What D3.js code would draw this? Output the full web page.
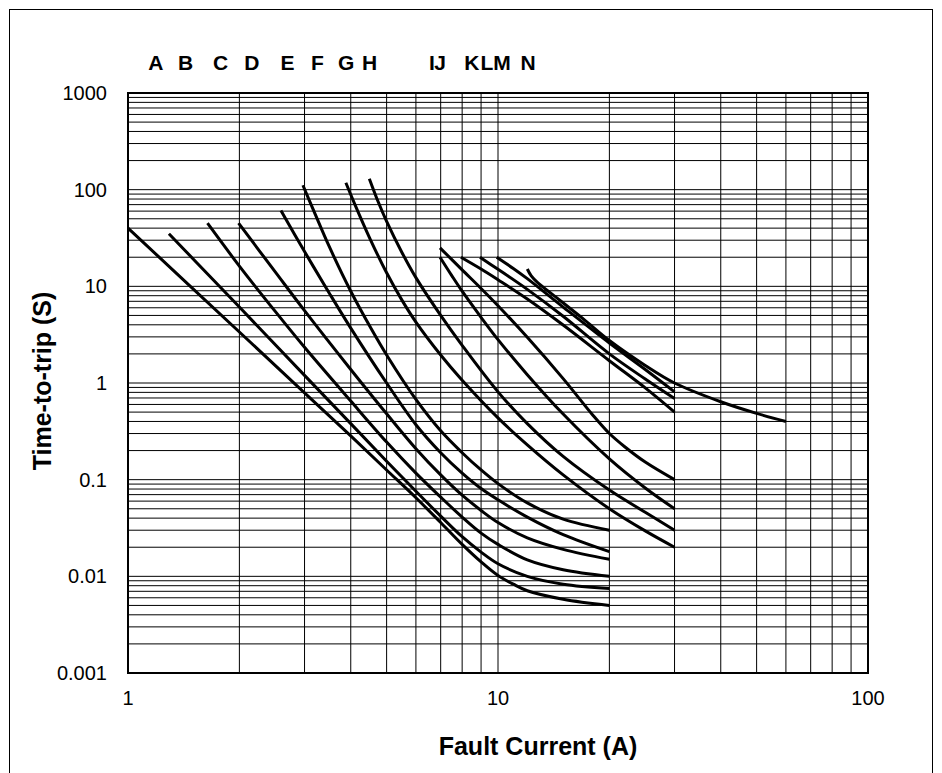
<!DOCTYPE html>
<html>
<head>
<meta charset="utf-8">
<script src="https://d3js.org/d3.v7.min.js"></script>
<style>
  body { margin: 0; background: #fff; }
  text { font-family: Arial, "Liberation Sans", sans-serif; fill: #000; }
</style>
</head>
<body>
<svg id="chart" width="942" height="773"></svg>
<script>
// tick labels
var xTicks = [1, 10, 100];
var yTicks = [1000, 100, 10, 1, 0.1, 0.01, 0.001];

// curve letters and the current (A) each letter sits over
var letters   = ["A", "B", "C", "D", "E", "F", "G", "H", "I", "J", "K", "L", "M", "N"];
var letterAmp = [1.19, 1.43, 1.78, 2.16, 2.70, 3.25, 3.89, 4.5, 6.63, 6.97, 8.5, 9.34, 10.25, 12.05];

// [current (A), time (s)]
var curveA = [[1, 40], [2, 3.37], [3, 0.79], [4, 0.284], [5, 0.126], [6, 0.065], [7, 0.036], [8, 0.0214], [9, 0.0141], [10, 0.0102], [11, 0.0083], [12, 0.0071], [15, 0.0058], [20, 0.005]];
var curveB = [[1.29, 35], [1.5, 19.2], [2, 6.1], [3, 1.2], [4, 0.38], [5, 0.155], [6, 0.076], [7, 0.042], [8, 0.0257], [9, 0.0178], [10, 0.0135], [12, 0.010], [15, 0.0083], [20, 0.0075]];
var curveC = [[1.64, 45], [2, 16.2], [2.5, 5.5], [3, 2.34], [4, 0.65], [5, 0.245], [6, 0.117], [7, 0.066], [8, 0.041], [9, 0.028], [10, 0.0214], [12, 0.0148], [15, 0.0117], [20, 0.010]];
var curveD = [[1.99, 45], [2.5, 14.1], [3, 5.6], [4, 1.38], [5, 0.48], [6, 0.209], [7, 0.112], [8, 0.069], [9, 0.048], [10, 0.036], [12, 0.025], [15, 0.019], [20, 0.015]];
var curveE = [[2.59, 61], [3, 22.9], [3.5, 8.5], [4, 3.7], [5, 1.0], [6, 0.37], [7, 0.19], [8, 0.117], [9, 0.081], [10, 0.062], [12, 0.041], [15, 0.027], [20, 0.018]];
var curveF = [[2.97, 111], [3.18, 60], [3.5, 25.7], [4, 8.9], [4.56, 3.55], [5, 1.95], [6, 0.676], [7, 0.32], [8, 0.19], [9, 0.126], [10, 0.091], [12, 0.0575], [15, 0.039], [20, 0.030]];
var curveG = [[3.88, 118], [4.1, 71], [4.5, 31.6], [5, 13.8], [5.5, 7.2], [6, 4.27], [7, 1.95], [8, 1.07], [10, 0.436], [12, 0.229], [15, 0.112], [20, 0.05], [25, 0.0295], [30, 0.02]];
var curveH = [[4.49, 130], [4.75, 74], [5, 47], [5.5, 22.4], [6, 12.3], [7, 5.0], [8, 2.45], [10, 0.81], [12, 0.38], [15, 0.174], [20, 0.078], [25, 0.046], [30, 0.03]];
var curveI = [[6.97, 25], [8, 14.8], [9, 9.5], [10, 6.3], [12, 2.97], [15, 1.11], [18, 0.47], [20, 0.30], [22, 0.219], [25, 0.152], [30, 0.1]];
var curveJ = [[6.97, 20], [7.5, 12.9], [8, 8.9], [9, 4.78], [10, 2.81], [12, 1.22], [15, 0.477], [20, 0.164], [25, 0.082], [30, 0.05]];
var curveK = [[7.94, 20], [9, 15.1], [10, 11.7], [12, 7.4], [15, 3.98], [20, 1.7], [25, 0.89], [30, 0.5]];
var curveL = [[8.94, 20], [10, 15], [12, 9.3], [15, 4.9], [20, 2.0], [25, 1.1], [30, 0.69]];
var curveM = [[9.92, 20], [11, 15.3], [12, 12.0], [15, 6.1], [20, 2.59], [25, 1.38], [30, 0.81]];
var curveN = [[12, 15.1], [12.3, 12.8], [12.8, 10.9], [14, 8.3], [17, 4.6], [20, 2.75], [25, 1.52], [30, 1.0], [40, 0.64], [50, 0.485], [60, 0.4]];

var curves = [curveA, curveB, curveC, curveD, curveE, curveF, curveG,
              curveH, curveI, curveJ, curveK, curveL, curveM, curveN];

var svg = d3.select("#chart"),
    margin = { top: 93, right: 74, bottom: 100, left: 128 },
    width = 942 - margin.left - margin.right,
    height = 773 - margin.top - margin.bottom;

// outer frame
svg.append("rect")
    .attr("x", 9.5).attr("y", 9.5)
    .attr("width", 923).attr("height", 790)
    .attr("fill", "none").attr("stroke", "#000").attr("stroke-width", 1);

var x = d3.scaleLog().domain([1, 100]).range([0, width]);
var y = d3.scaleLog().domain([0.001, 1000]).range([height, 0]);

var g = svg.append("g")
    .attr("transform", "translate(" + margin.left + "," + margin.top + ")");

// grid
g.selectAll(".vgrid")
    .data(x.ticks())
    .enter().append("line")
    .attr("class", "vgrid")
    .attr("x1", function (d) { return x(d); })
    .attr("x2", function (d) { return x(d); })
    .attr("y1", 0).attr("y2", height)
    .attr("stroke", "#000").attr("stroke-width", 1);

g.selectAll(".hgrid")
    .data(y.ticks())
    .enter().append("line")
    .attr("class", "hgrid")
    .attr("y1", function (d) { return y(d); })
    .attr("y2", function (d) { return y(d); })
    .attr("x1", 0).attr("x2", width)
    .attr("stroke", "#000").attr("stroke-width", 1);

g.append("rect")
    .attr("width", width).attr("height", height)
    .attr("fill", "none").attr("stroke", "#000").attr("stroke-width", 2);

// tick labels
g.selectAll(".xlab")
    .data(xTicks)
    .enter().append("text")
    .attr("x", function (d) { return x(d); })
    .attr("y", height + 32)
    .attr("text-anchor", "middle")
    .style("font-size", "20px")
    .text(function (d) { return d; });

g.selectAll(".ylab")
    .data(yTicks)
    .enter().append("text")
    .attr("x", -21)
    .attr("y", function (d) { return y(d) + 7; })
    .attr("text-anchor", "end")
    .style("font-size", "20px")
    .text(function (d) { return String(d); });

// curves
var line = d3.line()
    .x(function (d) { return x(d[0]); })
    .y(function (d) { return y(d[1]); })
    .curve(d3.curveCatmullRom.alpha(0.5));

g.selectAll(".curve")
    .data(curves)
    .enter().append("path")
    .attr("class", "curve")
    .attr("d", line)
    .attr("fill", "none")
    .attr("stroke", "#000")
    .attr("stroke-width", 3);

// letters over the curves
g.selectAll(".letter")
    .data(letters)
    .enter().append("text")
    .attr("x", function (d, i) { return x(letterAmp[i]); })
    .attr("y", -23)
    .attr("text-anchor", "middle")
    .style("font-size", "21px")
    .style("font-weight", "bold")
    .text(function (d) { return d; });

// axis titles
svg.append("text")
    .attr("x", 538).attr("y", 755)
    .attr("text-anchor", "middle")
    .style("font-size", "25px")
    .style("font-weight", "bold")
    .text("Fault Current (A)");

svg.append("text")
    .attr("transform", "translate(51,381) rotate(-90)")
    .attr("text-anchor", "middle")
    .style("font-size", "25px")
    .style("font-weight", "bold")
    .text("Time-to-trip (S)");
</script>
</body>
</html>
